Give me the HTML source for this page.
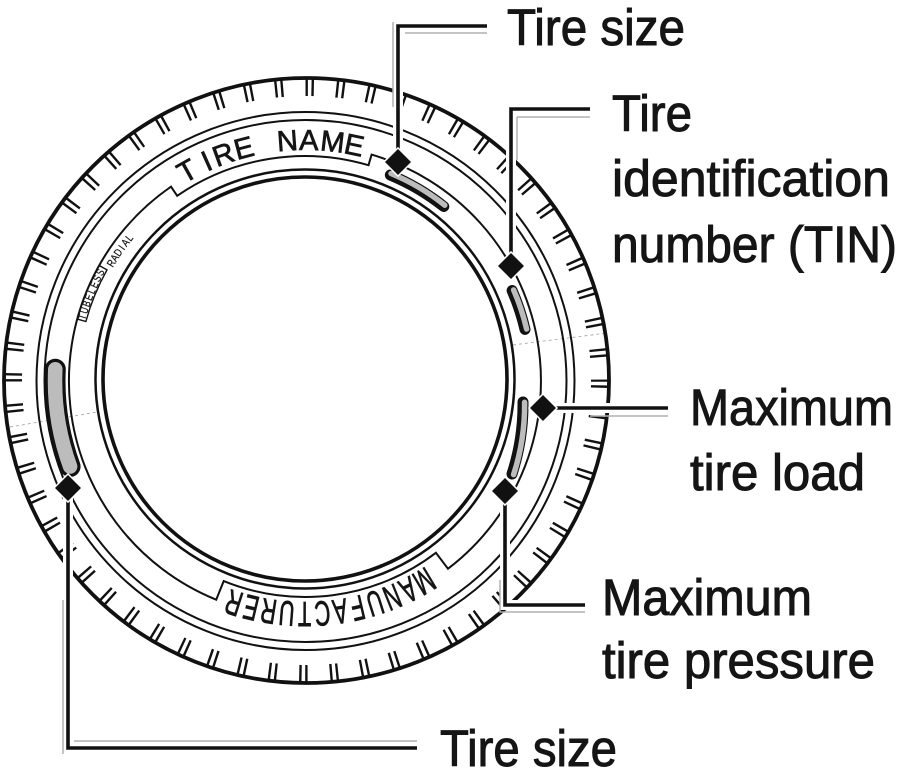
<!DOCTYPE html>
<html>
<head>
<meta charset="utf-8">
<style>
html,body{margin:0;padding:0;background:#fff;}
svg{display:block;}
text{font-family:"Liberation Sans",Arial,sans-serif;fill:#151515;}
</style>
</head>
<body>
<svg width="909" height="781" viewBox="0 0 909 781" xmlns="http://www.w3.org/2000/svg">
<rect width="909" height="781" fill="#fff"/>

<!-- faint dashed fold line -->
<g stroke="#aaa" stroke-width="0.9" stroke-dasharray="3 3" fill="none">
<line x1="10" y1="427" x2="97" y2="412"/>
<line x1="513" y1="345" x2="607" y2="333"/>
</g>

<!-- Tire outer -->
<circle cx="306.5" cy="380.5" r="302.5" fill="none" stroke="#111" stroke-width="3.8"/>
<!-- tread ticks -->
<circle cx="306.5" cy="380.5" r="293.5" fill="none" stroke="#111" stroke-width="18" stroke-dasharray="2.4 3.6 2.4 22.335" stroke-dashoffset="1.13"/>

<!-- sidewall lines -->
<circle cx="305.5" cy="381" r="269" fill="none" stroke="#111" stroke-width="2"/>
<circle cx="305.5" cy="381" r="261" fill="none" stroke="#111" stroke-width="2"/>

<!-- band line with label boxes -->
<path d="M371.6 154.6 A236 236 0 0 1 448 568.7 L435.9 552.8 A216 216 0 0 1 223.7 581.1 L216.2 599.7 A236 236 0 0 1 171 186.7 L177.2 195.8 A225 225 0 0 1 368.5 165.2 Z" fill="none" stroke="#111" stroke-width="2" stroke-linejoin="miter"/>
<!-- TUBELESS bracket -->
<path d="M77.3 319.1 L85.9 321.5 A227 227 0 0 1 107 269.9 L99.2 265.5" fill="none" stroke="#111" stroke-width="1.4"/>

<!-- inner rim -->
<circle cx="305" cy="379" r="209.5" fill="none" stroke="#111" stroke-width="2.5"/>
<circle cx="305" cy="379" r="202" fill="none" stroke="#111" stroke-width="3.6"/>

<!-- TIRE NAME -->
<g font-size="29" text-anchor="middle" stroke="#151515" stroke-width="0.7">
<text x="305" y="150" transform="rotate(-29.3 305 381)">T</text>
<text x="305" y="150" transform="rotate(-24.1 305 381)">I</text>
<text x="305" y="150" transform="rotate(-19.8 305 381)">R</text>
<text x="305" y="150" transform="rotate(-14.7 305 381)">E</text>
<text x="305" y="150" transform="rotate(-4.2 305 381)">N</text>
<text x="305" y="150" transform="rotate(0.9 305 381)">A</text>
<text x="305" y="150" transform="rotate(6.6 305 381)">M</text>
<text x="305" y="150" transform="rotate(11.8 305 381)">E</text>
</g>

<!-- MANUFACTURER (upside down) -->
<g font-size="35" text-anchor="middle" stroke="#151515" stroke-width="0.8">
<g transform="rotate(149.2 305 381)"><text transform="translate(305 160) scale(0.62 1)">M</text></g>
<g transform="rotate(153.6 305 381)"><text transform="translate(305 160) scale(0.62 1)">A</text></g>
<g transform="rotate(158.0 305 381)"><text transform="translate(305 160) scale(0.62 1)">N</text></g>
<g transform="rotate(162.5 305 381)"><text transform="translate(305 160) scale(0.62 1)">U</text></g>
<g transform="rotate(166.9 305 381)"><text transform="translate(305 160) scale(0.62 1)">F</text></g>
<g transform="rotate(171.3 305 381)"><text transform="translate(305 160) scale(0.62 1)">A</text></g>
<g transform="rotate(175.7 305 381)"><text transform="translate(305 160) scale(0.62 1)">C</text></g>
<g transform="rotate(180.1 305 381)"><text transform="translate(305 160) scale(0.62 1)">T</text></g>
<g transform="rotate(184.5 305 381)"><text transform="translate(305 160) scale(0.62 1)">U</text></g>
<g transform="rotate(189.0 305 381)"><text transform="translate(305 160) scale(0.62 1)">R</text></g>
<g transform="rotate(193.4 305 381)"><text transform="translate(305 160) scale(0.62 1)">E</text></g>
<g transform="rotate(197.8 305 381)"><text transform="translate(305 160) scale(0.62 1)">R</text></g>
</g>

<!-- TUBELESS RADIAL -->
<g font-size="11" text-anchor="middle" stroke="#151515" stroke-width="0.25">
<g transform="rotate(-73.95 305 381)"><text transform="translate(305 153) scale(0.75 1)">T</text></g>
<g transform="rotate(-72.25 305 381)"><text transform="translate(305 153) scale(0.75 1)">U</text></g>
<g transform="rotate(-70.55 305 381)"><text transform="translate(305 153) scale(0.75 1)">B</text></g>
<g transform="rotate(-68.85 305 381)"><text transform="translate(305 153) scale(0.75 1)">E</text></g>
<g transform="rotate(-67.15 305 381)"><text transform="translate(305 153) scale(0.75 1)">L</text></g>
<g transform="rotate(-65.45 305 381)"><text transform="translate(305 153) scale(0.75 1)">E</text></g>
<g transform="rotate(-63.75 305 381)"><text transform="translate(305 153) scale(0.75 1)">S</text></g>
<g transform="rotate(-62.05 305 381)"><text transform="translate(305 153) scale(0.75 1)">S</text></g>
<g transform="rotate(-58.7 305 381)"><text transform="translate(305 158) scale(0.8 1)">R</text></g>
<g transform="rotate(-57.1 305 381)"><text transform="translate(305 158) scale(0.8 1)">A</text></g>
<g transform="rotate(-55.5 305 381)"><text transform="translate(305 158) scale(0.8 1)">D</text></g>
<g transform="rotate(-53.95 305 381)"><text transform="translate(305 158) scale(0.8 1)">I</text></g>
<g transform="rotate(-52.4 305 381)"><text transform="translate(305 158) scale(0.8 1)">A</text></g>
<g transform="rotate(-50.8 305 381)"><text transform="translate(305 158) scale(0.8 1)">L</text></g>
</g>

<!-- pills -->
<g fill="none" stroke-linecap="round">
<path d="M55.3 369.2 A250 250 0 0 0 70.1 466.5" stroke="#111" stroke-width="21"/>
<path d="M55.3 369.2 A250 250 0 0 0 70.1 466.5" stroke="#bcbcbc" stroke-width="14.5"/>
<path d="M390.3 175 A223 223 0 0 1 443.8 206.5" stroke="#111" stroke-width="11"/>
<path d="M391 173.5 A225 225 0 0 1 444.8 205.2" stroke="#bcbcbc" stroke-width="5.5"/>
<path d="M512.1 290.5 A226 226 0 0 1 525 329.4" stroke="#111" stroke-width="11"/>
<path d="M513.6 289.9 A228 228 0 0 1 526.6 329" stroke="#bcbcbc" stroke-width="5.5"/>
<path d="M523 402 A224 224 0 0 1 512 474" stroke="#111" stroke-width="11"/>
<path d="M524.6 402.3 A226 226 0 0 1 513.6 474.6" stroke="#bcbcbc" stroke-width="5.5"/>
</g>

<!-- connector halos -->
<g fill="none" stroke="#fff" stroke-width="10" stroke-linejoin="miter">
<path d="M398 162 V26 H487"/>
<path d="M511 266 V109 H590"/>
<path d="M543 408 H668"/>
<path d="M505 491 V605 H585"/>
<path d="M68 488 V748 H417"/>
</g>
<!-- gray shadow lines -->
<g fill="none" stroke="#b0b0b0" stroke-width="1.5">
<path d="M393 22 V107"/>
<path d="M405 33 H487"/>
<path d="M517 117 H590"/>
<path d="M517 117 V160"/>
<path d="M590 416 H668"/>
<path d="M500 580 V612 H585"/>
<path d="M63 600 V754"/>
<path d="M74 741 H417"/>
</g>
<!-- connector lines -->
<g fill="none" stroke="#111" stroke-width="3.6" stroke-linejoin="miter" stroke-linecap="butt">
<path d="M398 162 V26 H487"/>
<path d="M511 266 V109 H590"/>
<path d="M543 408 H668"/>
<path d="M505 491 V605 H585"/>
<path d="M68 488 V748 H417"/>
</g>
<!-- diamonds -->
<g fill="#111" stroke="#fff" stroke-width="3" paint-order="stroke">
<polygon points="398,149 411,162 398,175 385,162"/>
<polygon points="511,253 524,266 511,279 498,266"/>
<polygon points="543,395 556,408 543,421 530,408"/>
<polygon points="505,478 518,491 505,504 492,491"/>
<polygon points="68,475 81,488 68,501 55,488"/>
</g>

<!-- labels -->
<g font-size="51" stroke="#151515" stroke-width="1">
<text x="507" y="45" textLength="178" lengthAdjust="spacingAndGlyphs">Tire size</text>
<text x="612" y="131" textLength="80" lengthAdjust="spacingAndGlyphs">Tire</text>
<text x="612" y="196" textLength="278" lengthAdjust="spacingAndGlyphs">identification</text>
<text x="612" y="262" textLength="285" lengthAdjust="spacingAndGlyphs">number (TIN)</text>
<text x="690" y="425" textLength="203" lengthAdjust="spacingAndGlyphs">Maximum</text>
<text x="690" y="490" textLength="175" lengthAdjust="spacingAndGlyphs">tire load</text>
<text x="602" y="615" textLength="210" lengthAdjust="spacingAndGlyphs">Maximum</text>
<text x="602" y="678" textLength="273" lengthAdjust="spacingAndGlyphs">tire pressure</text>
<text x="440" y="766" textLength="177" lengthAdjust="spacingAndGlyphs">Tire size</text>
</g>
</svg>
</body>
</html>
